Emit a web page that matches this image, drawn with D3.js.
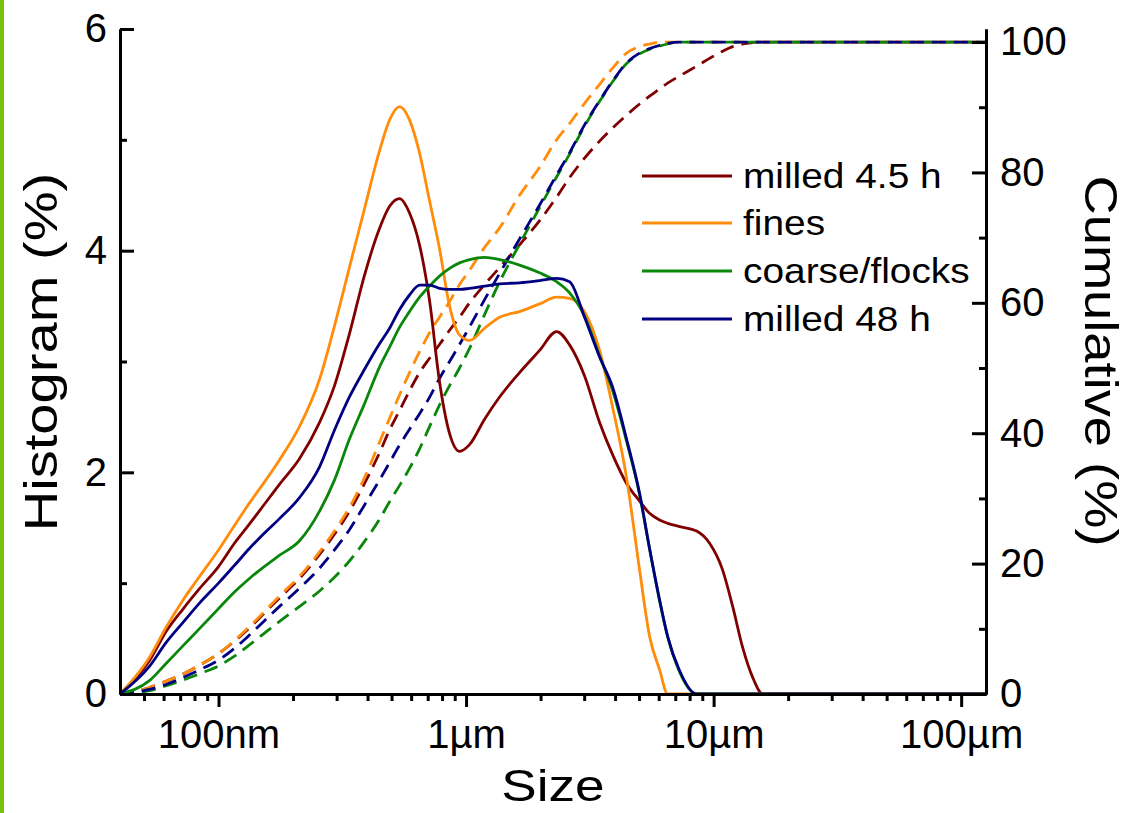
<!DOCTYPE html>
<html>
<head>
<meta charset="utf-8">
<script src="https://cdnjs.cloudflare.com/ajax/libs/d3/7.8.5/d3.min.js"></script>
<style>
  body { margin: 0; background: #fff; }
  svg { display: block; }
  text { font-family: "Liberation Sans", Arial, sans-serif; fill: #000; }
</style>
</head>
<body>
<svg id="chart" width="1132" height="813"></svg>
<script>
// Particle size grid (µm)
const sizes = [0.04, 0.0526, 0.0617, 0.0715, 0.0838, 0.1, 0.116, 0.133, 0.153, 0.176,
  0.212, 0.256, 0.294, 0.338, 0.389, 0.447, 0.491, 0.539, 0.591, 0.649,
  0.712, 0.781, 0.858, 0.941, 1.033, 1.188, 1.366, 1.645, 1.982, 2.321,
  2.619, 3.011, 3.463, 3.907, 4.451, 5.023, 5.513, 6.05, 6.519, 7.289,
  8.537, 9.634, 10.87, 11.94, 13.1, 14.38, 15.78, 22.26, 126];

// Histogram (%) per size class
const histMilled45 = [0, 0.30, 0.57, 0.76, 0.95, 1.15, 1.36, 1.53, 1.71, 1.89,
  2.12, 2.45, 2.78, 3.25, 3.78, 4.20, 4.40, 4.47, 4.34, 4.05,
  3.55, 2.82, 2.35, 2.19, 2.25, 2.48, 2.68, 2.90, 3.10, 3.27,
  3.15, 2.87, 2.45, 2.16, 1.90, 1.74, 1.63, 1.57, 1.54, 1.51,
  1.47, 1.36, 1.12, 0.79, 0.42, 0.15, 0, 0, 0];
const histFines = [0, 0.33, 0.61, 0.84, 1.06, 1.30, 1.52, 1.72, 1.91, 2.11,
  2.41, 2.84, 3.32, 3.85, 4.38, 4.90, 5.18, 5.30, 5.18, 4.88,
  4.45, 4.02, 3.50, 3.24, 3.19, 3.30, 3.40, 3.45, 3.52, 3.58,
  3.57, 3.45, 3.10, 2.59, 1.95, 1.12, 0.52, 0.22, 0, 0,
  0, 0, 0, 0, 0, 0, 0, 0, 0];
const histCoarse = [0, 0.12, 0.28, 0.43, 0.59, 0.77, 0.92, 1.04, 1.15, 1.25,
  1.38, 1.65, 1.93, 2.30, 2.62, 2.95, 3.13, 3.31, 3.45, 3.58,
  3.68, 3.77, 3.84, 3.89, 3.92, 3.94, 3.92, 3.87, 3.80, 3.72,
  3.62, 3.41, 3.05, 2.74, 2.28, 1.80, 1.31, 0.84, 0.52, 0.20,
  0, 0, 0, 0, 0, 0, 0, 0, 0];
const histMilled48 = [0, 0.25, 0.47, 0.64, 0.82, 1.00, 1.16, 1.31, 1.45, 1.58,
  1.77, 2.05, 2.38, 2.68, 2.93, 3.16, 3.30, 3.47, 3.60, 3.69,
  3.69, 3.66, 3.65, 3.65, 3.66, 3.68, 3.70, 3.71, 3.73, 3.75,
  3.72, 3.40, 3.04, 2.77, 2.30, 1.81, 1.31, 0.85, 0.52, 0.21,
  0, 0, 0, 0, 0, 0, 0, 0, 0];

// Cumulative (%) per size
const cumMilled45 = [0, 1.0, 2.0, 3.0, 4.4, 6.2, 8.1, 10.1, 12.4, 14.7,
  17.7, 21.4, 24.5, 28.0, 32.3, 37.0, 40.5, 43.5, 46.5, 49.3,
  51.5, 53.6, 55.8, 57.8, 60.0, 62.8, 65.4, 68.9, 72.6, 76.2,
  79.2, 82.2, 84.8, 86.8, 88.8, 90.5, 91.7, 92.8, 93.7, 94.8,
  96.3, 97.5, 98.6, 99.3, 99.7, 99.9, 100, 100, 100];
const cumFines = [0, 1.0, 2.0, 3.0, 4.4, 6.2, 8.2, 10.3, 12.6, 15.0,
  18.0, 21.8, 25.0, 28.6, 33.2, 38.6, 42.3, 45.9, 49.3, 52.5,
  55.4, 57.8, 60.2, 62.8, 65.0, 68.5, 71.5, 76.5, 80.8, 85.0,
  87.5, 90.6, 93.5, 96.0, 98.3, 99.3, 99.7, 100, 100, 100,
  100, 100, 100, 100, 100, 100, 100, 100, 100];
const cumCoarse = [0, 0.5, 1.3, 2.1, 3.1, 4.3, 5.8, 7.5, 9.3, 11.1,
  13.4, 15.8, 17.9, 20.4, 23.4, 26.8, 29.5, 32.0, 34.6, 37.6,
  41.0, 44.3, 47.3, 50.0, 53.0, 58.2, 63.2, 69.0, 74.6, 79.3,
  82.8, 87.1, 90.9, 93.9, 96.7, 98.2, 98.9, 99.4, 99.7, 100,
  100, 100, 100, 100, 100, 100, 100, 100, 100];
const cumMilled48 = [0, 0.7, 1.5, 2.5, 3.7, 5.2, 7.0, 9.0, 11.2, 13.4,
  16.2, 19.3, 22.1, 25.2, 29.0, 32.8, 35.5, 38.2, 40.6, 43.0,
  45.5, 48.4, 51.0, 53.6, 56.3, 60.5, 64.5, 69.8, 75.0, 79.6,
  83.0, 87.3, 91.0, 94.0, 96.8, 98.3, 99.0, 99.5, 99.8, 100,
  100, 100, 100, 100, 100, 100, 100, 100, 100];

const seriesNames = ["milled 4.5 h", "fines", "coarse/flocks", "milled 48 h"];
const seriesColors = ["#800000", "#ff8c0a", "#0a870a", "#000080"];
const histData = [histMilled45, histFines, histCoarse, histMilled48];
const cumData = [cumMilled45, cumFines, cumCoarse, cumMilled48];

const xTickValues = [0.1, 1, 10, 100];
const xTickLabels = ["100nm", "1µm", "10µm", "100µm"];
const xMinorTicks = [0.05, 0.06, 0.07, 0.08, 0.09,
  0.2, 0.3, 0.4, 0.5, 0.6, 0.7, 0.8, 0.9,
  2, 3, 4, 5, 6, 7, 8, 9,
  20, 30, 40, 50, 60, 70, 80, 90];
const yLeftTicks = [0, 2, 4, 6];
const yLeftMinor = [1, 3, 5];
const yRightTicks = [0, 20, 40, 60, 80, 100];
const yRightMinor = [10, 30, 50, 70, 90];

const svg = d3.select("#chart");
const plot = { left: 120, right: 986, top: 29, bottom: 694 };

// side stripe
svg.append("rect").attr("x", 0).attr("y", 0).attr("width", 4).attr("height", 813)
  .attr("fill", "#78c40c");

const x = d3.scaleLog().domain([0.04, 126]).range([plot.left, plot.right]);
const yL = d3.scaleLinear().domain([0, 6]).range([plot.bottom, plot.top]);
const yR = d3.scaleLinear().domain([0, 102]).range([plot.bottom, plot.top]);

// curves: dashed cumulative first, solid histograms on top
const histLine = d3.line().x(d => x(d[0])).y(d => yL(d[1])).curve(d3.curveMonotoneX);
const cumLine = d3.line().x(d => x(d[0])).y(d => yR(d[1])).curve(d3.curveMonotoneX);

const g = svg.append("g");
cumData.forEach((vals, i) => {
  g.append("path")
    .datum(sizes.map((s, k) => [s, vals[k]]))
    .attr("d", cumLine)
    .attr("fill", "none")
    .attr("stroke", seriesColors[i])
    .attr("stroke-width", 2.8)
    .attr("stroke-dasharray", "14,8");
});
histData.forEach((vals, i) => {
  g.append("path")
    .datum(sizes.map((s, k) => [s, vals[k]]))
    .attr("d", histLine)
    .attr("fill", "none")
    .attr("stroke", seriesColors[i])
    .attr("stroke-width", 2.8);
});

// axes
function styleAxis(sel) {
  sel.select(".domain").attr("stroke", "#000").attr("stroke-width", 3);
  sel.selectAll(".tick line").attr("stroke", "#000").attr("stroke-width", 3);
  sel.selectAll(".tick text").attr("font-size", 40)
    .attr("font-family", "'Liberation Sans', Arial, sans-serif").attr("fill", "#000");
}

const axB = svg.append("g").attr("transform", `translate(0,${plot.bottom})`)
  .call(d3.axisBottom(x).tickValues(xTickValues).tickSize(13).tickSizeOuter(0)
    .tickPadding(13).tickFormat((d, i) => xTickLabels[i]));
styleAxis(axB);
const axBm = svg.append("g").attr("transform", `translate(0,${plot.bottom})`)
  .call(d3.axisBottom(x).tickValues(xMinorTicks).tickSize(7).tickSizeOuter(0).tickFormat(""));
styleAxis(axBm);

const axL = svg.append("g").attr("transform", `translate(${plot.left},0)`)
  .call(d3.axisLeft(yL).tickValues(yLeftTicks).tickSize(-14).tickSizeOuter(0)
    .tickPadding(13).tickFormat(d3.format("d")));
styleAxis(axL);
const axLm = svg.append("g").attr("transform", `translate(${plot.left},0)`)
  .call(d3.axisLeft(yL).tickValues(yLeftMinor).tickSize(-7).tickSizeOuter(0).tickFormat(""));
styleAxis(axLm);

const axR = svg.append("g").attr("transform", `translate(${plot.right},0)`)
  .call(d3.axisRight(yR).tickValues(yRightTicks).tickSize(-14).tickSizeOuter(0)
    .tickPadding(14).tickFormat(d3.format("d")));
styleAxis(axR);
const axRm = svg.append("g").attr("transform", `translate(${plot.right},0)`)
  .call(d3.axisRight(yR).tickValues(yRightMinor).tickSize(-7).tickSizeOuter(0).tickFormat(""));
styleAxis(axRm);

// axis titles
svg.append("text")
  .attr("transform", "translate(57,352) rotate(-90) scale(1.22,1)")
  .attr("text-anchor", "middle").attr("font-size", 46).text("Histogram (%)");
svg.append("text")
  .attr("transform", "translate(553,801) scale(1.18,1)")
  .attr("text-anchor", "middle").attr("font-size", 45).text("Size");
svg.append("text")
  .attr("transform", "translate(1085,361) rotate(90) scale(1.18,1)")
  .attr("text-anchor", "middle").attr("font-size", 46).text("Cumulative (%)");

// legend
const legendY = [176, 223, 271, 319];
const legend = svg.append("g");
seriesNames.forEach((name, i) => {
  legend.append("line")
    .attr("x1", 642).attr("x2", 732).attr("y1", legendY[i]).attr("y2", legendY[i])
    .attr("stroke", seriesColors[i]).attr("stroke-width", 2.8);
  legend.append("text")
    .attr("transform", `translate(743,${legendY[i] + 12}) scale(1.11,1)`)
    .attr("font-size", 35).text(name);
});
</script>
</body>
</html>
